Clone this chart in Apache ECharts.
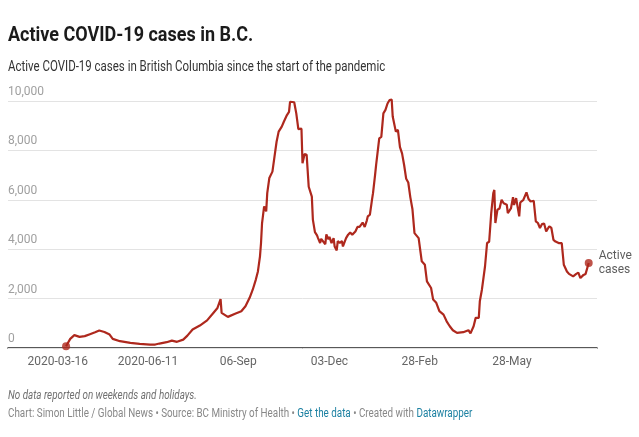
<!DOCTYPE html>
<html>
<head>
	<meta charset="UTF-8">
	<title>Active COVID-19 cases in B.C.</title>
	<style>
		html, body { margin: 0; padding: 0; background: #fff; }
		#chart { width: 639px; height: 437px; }
	</style>
</head>
<body>
	<div id="chart"></div>
	<script src="https://cdn.jsdelivr.net/npm/echarts@6/dist/echarts.min.js"></script>
	<script>
		// one line per month
		var dates = [
			'2020-03-24', '2020-03-28',
			'2020-04-01', '2020-04-06', '2020-04-11', '2020-04-16', '2020-04-21', '2020-04-25', '2020-04-30',
			'2020-05-05', '2020-05-08', '2020-05-15', '2020-05-25',
			'2020-06-03', '2020-06-13', '2020-06-18', '2020-06-22', '2020-06-29',
			'2020-07-04', '2020-07-09', '2020-07-15', '2020-07-19', '2020-07-24', '2020-07-31',
			'2020-08-07', '2020-08-13', '2020-08-17', '2020-08-20', '2020-08-21', '2020-08-27',
			'2020-09-03', '2020-09-09', '2020-09-13', '2020-09-17', '2020-09-20', '2020-09-23', '2020-09-25', '2020-09-27', '2020-09-28', '2020-09-29',
			'2020-10-01', '2020-10-03', '2020-10-04', '2020-10-06', '2020-10-09', '2020-10-11', '2020-10-13', '2020-10-15', '2020-10-18', '2020-10-20', '2020-10-23', '2020-10-25', '2020-10-26', '2020-10-30',
			'2020-11-01', '2020-11-03', '2020-11-06', '2020-11-07', '2020-11-09', '2020-11-11', '2020-11-13', '2020-11-16', '2020-11-17', '2020-11-19', '2020-11-21', '2020-11-22', '2020-11-24', '2020-11-25', '2020-11-29', '2020-11-30',
			'2020-12-02', '2020-12-03', '2020-12-05', '2020-12-07', '2020-12-08', '2020-12-10', '2020-12-11', '2020-12-13', '2020-12-15', '2020-12-16', '2020-12-19', '2020-12-21', '2020-12-23', '2020-12-25', '2020-12-28', '2020-12-30',
			'2021-01-01', '2021-01-04', '2021-01-06', '2021-01-08', '2021-01-09', '2021-01-11', '2021-01-13', '2021-01-14', '2021-01-16', '2021-01-17', '2021-01-20', '2021-01-22', '2021-01-24', '2021-01-26', '2021-01-28', '2021-01-30',
			'2021-02-01', '2021-02-02', '2021-02-05', '2021-02-07', '2021-02-09', '2021-02-11', '2021-02-13', '2021-02-15', '2021-02-17', '2021-02-19', '2021-02-21', '2021-02-23', '2021-02-27',
			'2021-03-02', '2021-03-05', '2021-03-07', '2021-03-11', '2021-03-13', '2021-03-16', '2021-03-19', '2021-03-23', '2021-03-26', '2021-03-29',
			'2021-04-01', '2021-04-05', '2021-04-11', '2021-04-16', '2021-04-18', '2021-04-21', '2021-04-23', '2021-04-26', '2021-04-27', '2021-04-29',
			'2021-05-02', '2021-05-04', '2021-05-06', '2021-05-08', '2021-05-10', '2021-05-11', '2021-05-12', '2021-05-14', '2021-05-16', '2021-05-18', '2021-05-20', '2021-05-23', '2021-05-24', '2021-05-27', '2021-05-29', '2021-05-30',
			'2021-06-01', '2021-06-04', '2021-06-05', '2021-06-08', '2021-06-11', '2021-06-13', '2021-06-15', '2021-06-18', '2021-06-20', '2021-06-22', '2021-06-24', '2021-06-26', '2021-06-28', '2021-06-30',
			'2021-07-03', '2021-07-05', '2021-07-07', '2021-07-09', '2021-07-12', '2021-07-15', '2021-07-17', '2021-07-20', '2021-07-22', '2021-07-26', '2021-07-29', '2021-07-31',
			'2021-08-02', '2021-08-05', '2021-08-07', '2021-08-10'
		];
		var activeCases = [
			70, 370,
			520, 450, 480, 560, 640, 710, 650,
			545, 370, 275, 210,
			170, 140, 140, 180, 235,
			300, 250, 340, 500, 750, 910,
			1120, 1420, 1620, 1980, 1420, 1260,
			1390, 1490, 1690, 2030, 2360, 2770, 3100, 3710, 4250, 5060,
			5730, 5530, 6270, 6880, 7140, 7750, 8350, 8760, 8960, 9160, 9430, 9560, 9970, 9950,
			9500, 8860, 8880, 7480, 7850, 7820, 6530, 6130, 5200, 4690, 4560, 4450, 4250, 4420, 4200, 4600,
			4400, 4500, 4250, 4450, 4110, 3950, 4330, 4250, 4330, 4110, 4450, 4590, 4680, 4590, 4720, 4900,
			4900, 5080, 4900, 5160, 5330, 5400, 6000, 6270, 7010, 7410, 8490, 8550, 9500, 9640, 9900, 10040,
			10060, 9370, 8760, 8830, 8130, 7880, 7410, 6850, 6700, 6100, 5630, 4650, 4450,
			3510, 3370, 2700, 2430, 1960, 1830, 1490, 1350, 1080, 880,
			720, 610, 640, 720, 590, 880, 1220, 1220, 1890, 2360,
			3300, 4250, 4300, 5460, 6270, 6400, 5060, 5600, 5650, 6000, 5860, 5800, 5460, 5650, 6110, 5790,
			6070, 5330, 5890, 6000, 6300, 6030, 5930, 5960, 5130, 5060, 4860, 5020, 5040, 4720,
			4930, 4860, 4380, 4310, 4250, 4250, 3370, 3100, 3000, 2900, 3000, 3050,
			2830, 2960, 3000, 3440
		];
		var tickDates = ['2020-03-16', '2020-06-11', '2020-09-06', '2020-12-03', '2021-02-28', '2021-05-28'];
		var tickLabels = ['2020-03-16', '2020-06-11', '06-Sep', '03-Dec', '28-Feb', '28-May'];
		var yTicks = [0, 2000, 4000, 6000, 8000, 10000];

		var lineColor = '#ae281d';
		var fontFamily = 'Roboto, "Noto Sans", sans-serif';

		function toTime(d) {
			return Date.parse(d + 'T00:00:00Z');
		}

		var seriesData = [];
		for (var i = 0; i < dates.length; i++) {
			seriesData.push([toTime(dates[i]), activeCases[i]]);
		}
		var last = dates.length - 1;
		var tickTimes = tickDates.map(toTime);

		// header and footer text is a narrow face in the original, squeeze Roboto to match
		function headerText(txt, y, size, weight, color, squeeze, extra) {
			var style = {
				text: txt,
				x: 0, y: 0,
				fill: color,
				font: (extra && extra.italic ? 'italic ' : '') + weight + ' ' + size + 'px ' + fontFamily,
				verticalAlign: 'middle',
				align: 'left'
			};
			if (extra && extra.rich) style.rich = extra.rich;
			return { type: 'text', x: 8, y: y, scaleX: squeeze, scaleY: 1, style: style, z: 10 };
		}

		var myChart = echarts.init(document.getElementById('chart'), null, { renderer: 'canvas' });
		myChart.setOption({
			animation: false,
			textStyle: { fontFamily: fontFamily },
			graphic: [
				headerText('Active COVID-19 cases in B.C.', 35.5, 20, 'bold', '#1b1b1b', 0.9),
				headerText('Active COVID-19 cases in British Columbia since the start of the pandemic', 67.5, 14, 'normal', '#333', 0.82),
				headerText('No data reported on weekends and holidays.', 396, 12, 'normal', '#707070', 0.82, { italic: true }),
				headerText('Chart: Simon Little / Global News • Source: BC Ministry of Health • {a|Get the data} • Created with {a|Datawrapper}',
					414, 12, 'normal', '#888', 0.82,
					{ rich: { a: { fill: '#1d81a2', font: 'normal 12px ' + fontFamily } } })
			],
			grid: { left: 8, right: 42, top: 101, bottom: 89, containLabel: false },
			xAxis: {
				type: 'value',
				min: toTime('2020-01-28'),
				max: toTime('2021-08-18'),
				axisLine: { show: true, onZero: false, lineStyle: { color: '#222', width: 1.5 } },
				axisTick: { show: false },
				splitLine: { show: false },
				axisLabel: {
					customValues: tickTimes,
					color: '#666',
					fontSize: 12,
					margin: 8,
					fontFamily: fontFamily,
					formatter: function (val) {
						var idx = tickTimes.indexOf(val);
						return idx >= 0 ? tickLabels[idx] : '';
					}
				}
			},
			yAxis: {
				type: 'value',
				min: 0,
				max: 10000,
				interval: 2000,
				axisLine: { show: false },
				axisTick: { show: false },
				splitLine: { lineStyle: { color: '#e3e3e3', width: 1 } },
				axisLabel: {
					inside: true,
					margin: 0,
					verticalAlign: 'bottom',
					padding: [0, 0, 3, 0],
					color: '#a0a0a0',
					fontSize: 12,
					fontFamily: fontFamily,
					formatter: function (v) {
						return yTicks.indexOf(v) >= 0 ? v.toLocaleString('en-US') : '';
					}
				},
				z: 1
			},
			series: [{
				type: 'line',
				data: seriesData,
				showSymbol: false,
				clip: false,
				lineStyle: { color: lineColor, width: 2.2 },
				itemStyle: { color: lineColor },
				z: 3
			}, {
				type: 'scatter',
				data: [seriesData[0], seriesData[last]],
				symbolSize: 8,
				itemStyle: { color: lineColor },
				label: {
					show: true,
					position: 'right',
					distance: 6,
					color: '#333',
					fontSize: 12,
					lineHeight: 14,
					fontFamily: fontFamily,
					formatter: function (p) {
						return p.dataIndex === 1 ? 'Active\ncases' : '';
					}
				},
				z: 4
			}]
		});
	</script>
</body>
</html>
